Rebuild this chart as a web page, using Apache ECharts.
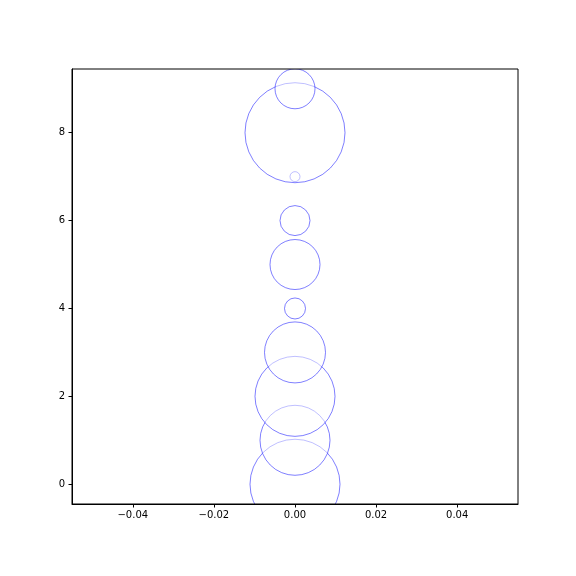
<!DOCTYPE html>
<html>
<head>
<meta charset="utf-8">
<script src="https://cdn.jsdelivr.net/npm/echarts@6/dist/echarts.min.js"></script>
<style>html,body{margin:0;padding:0;background:#fff;}#c{width:576px;height:576px;}</style>
</head>
<body>
<div id="c"></div>
<script>
const xValues = [0, 0, 0, 0, 0, 0, 0, 0, 0, 0];
const yValues = [0, 1, 2, 3, 4, 5, 6, 7, 8, 9];
const sizes = [90, 70, 80, 61, 21, 50, 30, 10, 100, 40];
const xTicks = [-0.04, -0.02, 0.00, 0.02, 0.04];
const yTicks = [0, 2, 4, 6, 8];

const data = xValues.map((x, i) => [x, yValues[i], sizes[i]]);
const fmtX = v => {
  const s = Math.abs(v).toFixed(2);
  return (v < -1e-12 ? '\u2212' : '') + s;
};
const chart = echarts.init(document.getElementById('c'), null, {renderer: 'canvas'});
chart.setOption({
  animation: false,
  backgroundColor: '#fff',
  grid: {left: 72, right: 58, top: 69, bottom: 72, show: true, borderColor: '#000', borderWidth: 1, backgroundColor: 'transparent', z: 12},
  graphic: [
    {type: 'rect', z: 5, silent: true, shape: {x: 0, y: 505, width: 576, height: 71}, style: {fill: '#fff'}},
    {type: 'rect', z: 5, silent: true, shape: {x: 0, y: 0, width: 576, height: 69}, style: {fill: '#fff'}}
  ],
  xAxis: {
    type: 'value', min: -0.055, max: 0.055, z: 10,
    splitLine: {show: false},
    axisLine: {show: true, onZero: false, lineStyle: {color: '#000', width: 1}},
    axisTick: {show: true, length: 3.5, customValues: xTicks, lineStyle: {color: '#000'}},
    axisLabel: {customValues: xTicks, formatter: fmtX, color: '#000', fontSize: 10, fontFamily: 'DejaVu Sans', margin: 6}
  },
  yAxis: {
    type: 'value', min: -0.45, max: 9.45, z: 10,
    splitLine: {show: false},
    axisLine: {show: true, onZero: false, lineStyle: {color: '#000', width: 1}},
    axisTick: {show: true, length: 3.5, customValues: yTicks, lineStyle: {color: '#000'}},
    axisLabel: {customValues: yTicks, formatter: v => String(Math.round(v)), color: '#000', fontSize: 10, fontFamily: 'DejaVu Sans', margin: 7}
  },
  series: [{
    type: 'scatter',
    data: data,
    symbol: 'circle',
    symbolSize: d => d[2],
    clip: false,
    silent: true,
    z: 2,
    itemStyle: {color: 'rgba(255,255,255,0.5)', borderColor: 'rgba(0,0,255,0.5)', borderWidth: 1, opacity: 1}
  }]
});
</script>
</body>
</html>
